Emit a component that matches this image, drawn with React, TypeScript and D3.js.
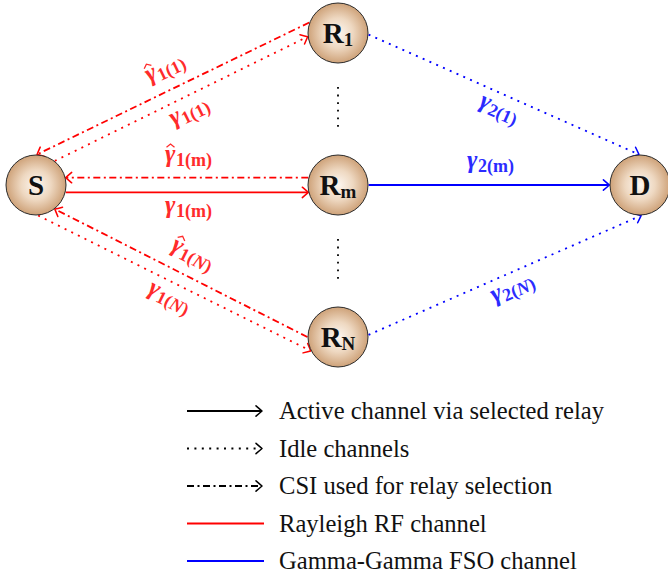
import * as d3 from "d3";

// relay network: S -> R_k -> D
const nodeIds = ["S", "R1", "Rm", "RN", "D"];
const nodeMain = ["S", "R", "R", "R", "D"];
const nodeSub = ["", "1", "m", "N", ""];
const nodeCol = [0, 1, 1, 1, 2];
const nodeRow = [0, -1, 0, 1, 0];

// links, anchors given as tikz-style angles on the node border
const edgeFrom = ["S", "R1", "Rm", "S", "S", "RN", "R1", "Rm", "RN"];
const edgeTo = ["R1", "S", "S", "Rm", "RN", "S", "D", "D", "D"];
const edgeKind = ["idle", "csi", "csi", "active", "idle", "csi", "idle", "active", "idle"];
const edgeLink = ["rf", "rf", "rf", "rf", "rf", "rf", "fso", "fso", "fso"];
const edgeOut = [52, 160, 166, -14, -86, 180, -3, 0, 4];
const edgeIn = [187, 88, 14, 194, 207, -52, 92, 180, -88];

const labelEdge = [1, 0, 2, 3, 5, 4, 6, 7, 8];
const labelHat = [true, false, true, false, true, false, false, false, false];
const labelSub = ["1(1)", "1(1)", "1(m)", "1(m)", "1(N)", "1(N)", "2(1)", "2(m)", "2(N)"];
const labelSide = ["above", "below", "above", "below", "above", "below", "below", "above", "below"];

const legendText = [
  "Active channel via selected relay",
  "Idle channels",
  "CSI used for relay selection",
  "Rayleigh RF channel",
  "Gamma-Gamma FSO channel",
];
const legendKind = ["active", "idle", "csi", "active", "active"];
const legendLink = ["none", "none", "none", "rf", "fso"];
const legendArrow = [true, true, true, false, false];

const W = 668;
const H = 578;
const R = 30;
const LW = 1.8;
const GAP = 19;
const SERIF = '"Liberation Serif", "DejaVu Serif", serif';

const lineColor: Record<string, string> = { rf: "#ff0000", fso: "#0000ff", none: "#000000" };
const textColor: Record<string, string> = { rf: "#ff2b2b", fso: "#2b2bff" };
const dash: Record<string, string | undefined> = {
  active: undefined,
  idle: "2 5.4",
  csi: "7 3.5 2 3.5",
};

const x = d3.scaleLinear().domain([0, 2]).range([36, 640]);
const y = d3.scaleLinear().domain([-1, 1]).range([33, 337]);
const legendY = d3.scalePoint<number>().domain(d3.range(legendText.length)).range([411, 561]);

const nodes = new Map(
  nodeIds.map((id, i) => [id, { id, main: nodeMain[i], sub: nodeSub[i], x: x(nodeCol[i]), y: y(nodeRow[i]) }])
);

function anchor(id: string, deg: number): [number, number] {
  const n = nodes.get(id)!;
  const a = (deg * Math.PI) / 180;
  return [n.x + (R + 0.6) * Math.cos(a), n.y - (R + 0.6) * Math.sin(a)];
}

const arrowPath = "M -6 -5.2 Q -1.8 -1.6 0 0 Q -1.8 1.6 -6 5.2";

function Arrow({ tip, angle, color }: { tip: [number, number]; angle: number; color: string }) {
  return (
    <path
      d={arrowPath}
      transform={`translate(${tip[0]},${tip[1]}) rotate(${(angle * 180) / Math.PI})`}
      fill="none"
      stroke={color}
      strokeWidth={LW * 0.85}
      strokeLinecap="round"
      strokeLinejoin="round"
    />
  );
}

// rough advance widths of the bold subscript glyphs at 18px
const subW: Record<string, number> = { "1": 9, "2": 9, "(": 6, ")": 6, m: 15, N: 12.5 };

const edges = edgeFrom.map((from, i) => {
  const p0 = anchor(from, edgeOut[i]);
  const p1 = anchor(edgeTo[i], edgeIn[i]);
  const ang = Math.atan2(p1[1] - p0[1], p1[0] - p0[0]);
  return { p0, p1, ang, kind: edgeKind[i], link: edgeLink[i] };
});

function Gamma({ hat, sub, color }: { hat: boolean; sub: string; color: string }) {
  const gw = 13;
  const sw = sub.split("").reduce((s, c) => s + (subW[c] ?? 8), 0);
  const split = (gw - sw) / 2;
  const base = hat ? 5 : 1.8;
  const parts = sub.split(/(N)/);
  const hx = split - 5;
  const hy = base - 17.5;
  return (
    <g fill={color} style={{ fontFamily: SERIF }}>
      <text x={split} y={base} textAnchor="end" fontStyle="italic" fontWeight="bold" fontSize={25}>
        {"\u03b3"}
      </text>
      {hat && (
        <path
          d={`M ${hx - 4} ${hy + 3.2} L ${hx} ${hy} L ${hx + 4} ${hy + 3.2}`}
          fill="none"
          stroke={color}
          strokeWidth={1.3}
        />
      )}
      <text x={split + 0.5} y={base + 4} fontSize={18} fontWeight="bold">
        {parts.map((p, k) =>
          p === "N" ? (
            <tspan key={k} fontStyle="italic">
              N
            </tspan>
          ) : (
            p
          )
        )}
      </text>
    </g>
  );
}

export default function App() {
  return (
    <div style={{ position: "absolute", left: 0, top: 0 }}>
      <svg width={W} height={H} viewBox={`0 0 ${W} ${H}`} style={{ display: "block", background: "#fff" }}>
        <defs>
          <radialGradient id="ball" cx="50%" cy="50%" r="50%">
            <stop offset="0%" stopColor="#fdf7f1" />
            <stop offset="50%" stopColor="#eed8c1" />
            <stop offset="100%" stopColor="#cea279" />
          </radialGradient>
        </defs>

        {/* vertical dots between relays */}
        {[[-1, 0], [0, 1]].map(([a, b], i) => {
          const y0 = y(a) + R + 24;
          const y1 = y(b) - R - 24;
          return (
            <line key={i} x1={x(1)} x2={x(1)} y1={y0} y2={y1} stroke="#000" strokeWidth={1.8} strokeDasharray="1.8 5.8" />
          );
        })}

        {edges.map((e, i) => {
          const color = lineColor[e.link];
          const end: [number, number] = [e.p1[0] - Math.cos(e.ang) * 0.8, e.p1[1] - Math.sin(e.ang) * 0.8];
          return (
            <g key={i}>
              <line
                x1={e.p0[0]}
                y1={e.p0[1]}
                x2={end[0]}
                y2={end[1]}
                stroke={color}
                strokeWidth={LW}
                strokeDasharray={dash[e.kind]}
              />
              <Arrow tip={e.p1} angle={e.ang} color={color} />
            </g>
          );
        })}

        {labelEdge.map((ei, i) => {
          const e = edges[ei];
          let a = e.ang;
          if (a > Math.PI / 2) a -= Math.PI;
          if (a < -Math.PI / 2) a += Math.PI;
          const mx = (e.p0[0] + e.p1[0]) / 2;
          const my = (e.p0[1] + e.p1[1]) / 2;
          const off = (labelSide[i] === "above" ? -1 : 1) * (GAP + (labelHat[i] ? 2 : 0));
          const lx = mx - Math.sin(a) * off;
          const ly = my + Math.cos(a) * off;
          return (
            <g key={i} transform={`translate(${lx},${ly}) rotate(${(a * 180) / Math.PI})`}>
              <Gamma hat={labelHat[i]} sub={labelSub[i]} color={textColor[e.link]} />
            </g>
          );
        })}

        {[...nodes.values()].map((n) => (
          <g key={n.id} transform={`translate(${n.x},${n.y})`}>
            <circle r={R} fill="url(#ball)" stroke="#2b2b2b" strokeWidth={1} />
            <text
              textAnchor="middle"
              y={9.5}
              fontWeight="bold"
              fontSize={29}
              fill="#111"
              style={{ fontFamily: SERIF }}
            >
              {n.main}
              {n.sub && (
                <tspan fontSize={19} dy={3}>
                  {n.sub}
                </tspan>
              )}
            </text>
          </g>
        ))}

        {legendText.map((t, i) => {
          const ly = legendY(i)!;
          const color = lineColor[legendLink[i]];
          const x0 = 187;
          const x1 = 262;
          return (
            <g key={i}>
              <line
                x1={x0}
                x2={legendArrow[i] ? x1 - 0.8 : x1 + 2}
                y1={ly}
                y2={ly}
                stroke={color}
                strokeWidth={LW}
                strokeDasharray={dash[legendKind[i]]}
              />
              {legendArrow[i] && <Arrow tip={[x1, ly]} angle={0} color={color} />}
              <text x={279} y={ly + 8} fontSize={24.6} fill="#111" style={{ fontFamily: SERIF }}>
                {t}
              </text>
            </g>
          );
        })}
      </svg>
    </div>
  );
}
